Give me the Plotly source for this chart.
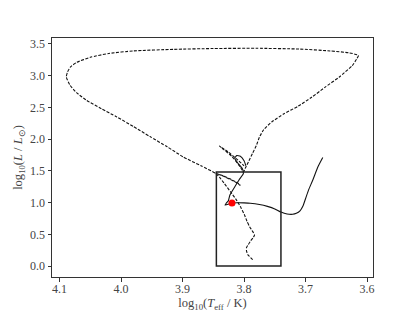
import plotly.graph_objects as go

# Dashed evolutionary track (log Teff, log L)
dashed_logT = [3.786, 3.791, 3.794, 3.796, 3.796, 3.793, 3.789, 3.785, 3.783, 3.787, 3.791, 3.795,
               3.799, 3.805, 3.813, 3.822, 3.832, 3.840, 3.846,
               3.870, 3.899, 3.925, 3.953, 3.980, 4.007, 4.032, 4.056, 4.072, 4.083, 4.089,
               4.087, 4.082, 4.072, 4.050, 4.020, 3.980, 3.915, 3.850, 3.780, 3.710, 3.660,
               3.629, 3.614, 3.617, 3.624, 3.645, 3.668, 3.690, 3.712, 3.735, 3.755, 3.768,
               3.775, 3.780, 3.786, 3.792, 3.798, 3.801, 3.806, 3.820, 3.840, 3.826, 3.810, 3.800]
dashed_logL = [0.10, 0.15, 0.18, 0.24, 0.29, 0.34, 0.40, 0.45, 0.49, 0.56, 0.62, 0.70,
               0.80, 0.92, 1.05, 1.17, 1.30, 1.40, 1.46,
               1.58, 1.72, 1.88, 2.04, 2.20, 2.35, 2.48, 2.61, 2.73, 2.85, 2.98,
               3.06, 3.14, 3.21, 3.29, 3.35, 3.39, 3.415, 3.428, 3.432, 3.42, 3.39,
               3.36, 3.32, 3.26, 3.16, 2.98, 2.82, 2.66, 2.52, 2.40, 2.27, 2.15,
               2.03, 1.90, 1.78, 1.66, 1.54, 1.48, 1.56, 1.73, 1.89, 1.80, 1.67, 1.58]

# Solid track
solid_logT = [3.672, 3.680, 3.688, 3.695, 3.699, 3.704, 3.709, 3.715, 3.721, 3.730, 3.740,
              3.750, 3.762, 3.775, 3.790, 3.800, 3.812, 3.820, 3.831, 3.829, 3.8255, 3.823,
              3.815, 3.808, 3.801, 3.803, 3.810, 3.815, 3.812, 3.806, 3.800, 3.797]
solid_logL = [1.71, 1.56, 1.36, 1.20, 1.09, 0.95, 0.87, 0.83, 0.815, 0.82, 0.85,
              0.90, 0.94, 0.97, 0.99, 0.995, 0.997, 0.99, 0.96, 0.99, 1.03, 1.12,
              1.25, 1.36, 1.46, 1.54, 1.62, 1.70, 1.74, 1.73, 1.66, 1.58]

# Short loop inside the box
loop_logT = [3.846, 3.836, 3.822, 3.809, 3.806, 3.815, 3.832, 3.846]
loop_logL = [1.46, 1.43, 1.37, 1.30, 1.27, 1.33, 1.41, 1.46]

# Current position
star_logT = [3.8196]
star_logL = [0.995]

# Box
box_T = [3.845, 3.740]
box_L = [0.0, 1.48]

x_ticks = [4.1, 4.0, 3.9, 3.8, 3.7, 3.6]
y_ticks = [0.0, 0.5, 1.0, 1.5, 2.0, 2.5, 3.0, 3.5]

FONT = "Liberation Serif"

fig = go.Figure()
fig.add_trace(go.Scatter(x=dashed_logT, y=dashed_logL, mode="lines",
                         line=dict(color="#111111", width=1.1, dash="3px,1.5px", shape="spline", smoothing=0.5),
                         showlegend=False))
fig.add_trace(go.Scatter(x=loop_logT, y=loop_logL, mode="lines",
                         line=dict(color="#111111", width=1.1, dash="3px,1.5px"),
                         showlegend=False))
fig.add_trace(go.Scatter(x=solid_logT, y=solid_logL, mode="lines",
                         line=dict(color="#111111", width=1.1, shape="spline", smoothing=0.5),
                         showlegend=False))
fig.add_shape(type="rect", x0=box_T[0], x1=box_T[1], y0=box_L[0], y1=box_L[1],
              line=dict(color="#222222", width=1.5))
fig.add_trace(go.Scatter(x=star_logT, y=star_logL, mode="markers",
                         marker=dict(color="red", size=7), showlegend=False))

axis_common = dict(showgrid=False, zeroline=False, showline=True, linecolor="#333333",
                   linewidth=1, mirror=True, ticks="outside", ticklen=3.5, tickwidth=1,
                   tickcolor="#333333", automargin=False,
                   tickfont=dict(family=FONT, size=12, color="#444444"))

fig.update_xaxes(range=[4.1123, 3.5903], tickvals=x_ticks,
                 ticktext=[f"{v:.1f}" for v in x_ticks], ticklabelstandoff=-3,
                 title=dict(text="log<sub>10</sub>(<i>T</i><sub>eff</sub> / K)",
                            font=dict(family=FONT, size=12.5, color="#444444"), standoff=6),
                 **axis_common)
fig.update_yaxes(range=[-0.173, 3.594], tickvals=y_ticks,
                 ticktext=[f"{v:.1f}" for v in y_ticks],
                 title=dict(text="log<sub>10</sub>(<i>L</i> / <i>L</i><sub>⊙</sub>)",
                            font=dict(family=FONT, size=12.5, color="#444444"), standoff=4),
                 **axis_common)

# the page body adds an ~8px offset; compensate so the plot box lands where the reference has it
fig.update_layout(width=407, height=304, margin=dict(l=44, r=42, t=30, b=35),
                  plot_bgcolor="white", paper_bgcolor="white")

fig.write_html("out.html")
